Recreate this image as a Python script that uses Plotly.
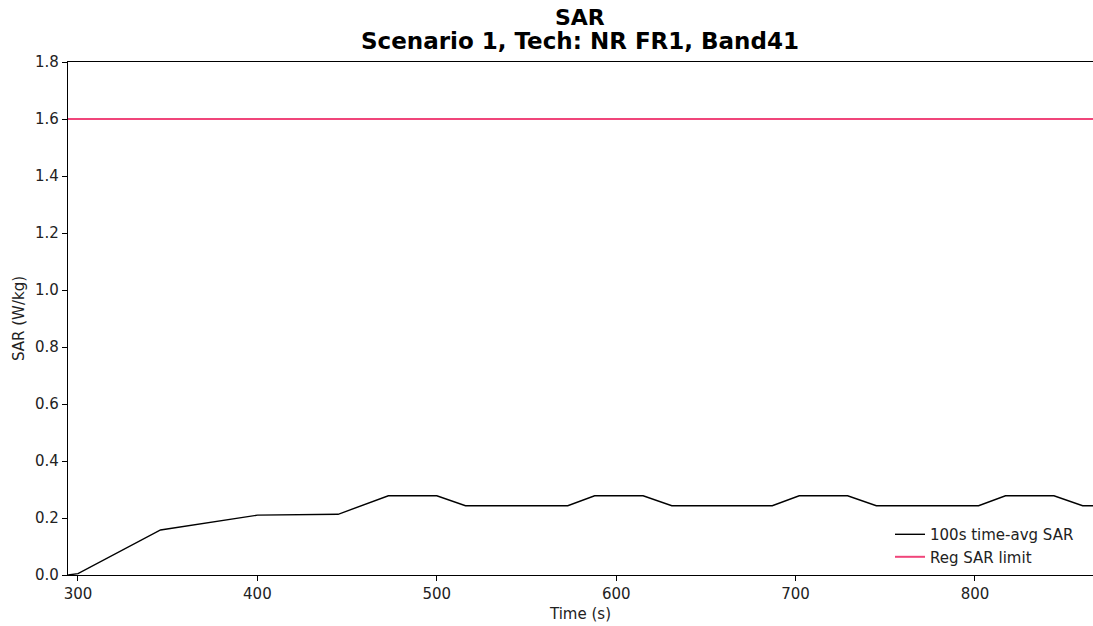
import plotly.graph_objects as go

time_s = [294.5, 300, 346, 400, 445, 473, 500, 516, 573, 588, 615, 631, 687, 702, 729, 745, 802, 817, 844, 860, 900]
sar_avg = [0.0, 0.005, 0.158, 0.21, 0.213, 0.278, 0.278, 0.243, 0.243, 0.278, 0.278, 0.243, 0.243, 0.278, 0.278, 0.243, 0.243, 0.278, 0.278, 0.243, 0.243]
limit_time = [290, 900]
limit_sar = [1.6, 1.6]
x_ticks = [300, 400, 500, 600, 700, 800]
y_ticks = [0.0, 0.2, 0.4, 0.6, 0.8, 1.0, 1.2, 1.4, 1.6, 1.8]

font = "DejaVu Sans"
W = 1093
LEFT = 68
PX_PER_UNIT = 1.794
x_min = 294.43
x_max = x_min + (W - LEFT) / PX_PER_UNIT

fig = go.Figure()
fig.add_trace(go.Scatter(x=time_s, y=sar_avg, mode="lines", name="100s time-avg SAR",
                         line=dict(color="black", width=1.4)))
fig.add_trace(go.Scatter(x=limit_time, y=limit_sar, mode="lines", name="Reg SAR limit",
                         line=dict(color="#f0457a", width=2)))

cx = (580 - LEFT) / (W - LEFT)

fig.update_layout(
    width=W, height=626,
    margin=dict(l=LEFT, r=0, t=62, b=51),
    paper_bgcolor="white", plot_bgcolor="white",
    font=dict(family=font, size=15, color="#222"),
    showlegend=True,
    legend=dict(x=(890 - LEFT) / (W - LEFT), xanchor="left", y=0.111, yanchor="top",
                bgcolor="rgba(255,255,255,0.8)", font=dict(size=15, color="#222"),
                tracegroupgap=0, itemwidth=30),
    annotations=[
        dict(text="<b>SAR</b>", x=cx, y=1.0, xref="paper", yref="paper",
             yshift=31.6, yanchor="bottom", showarrow=False, borderpad=0,
             height=24, valign="middle",
             font=dict(size=22, color="black", family=font)),
        dict(text="<b>Scenario 1, Tech: NR FR1, Band41</b>", x=cx, y=1.0, xref="paper", yref="paper",
             yshift=8, yanchor="bottom", showarrow=False, borderpad=0,
             height=24, valign="middle",
             font=dict(size=23, color="black", family=font)),
    ],
)

fig.update_xaxes(range=[x_min, x_max], tickvals=x_ticks, showgrid=False, zeroline=False,
                 showline=True, linecolor="black", linewidth=1.2, mirror=True,
                 ticks="outside", ticklen=5, tickcolor="black",
                 title=dict(text="Time (s)", font=dict(size=15, color="#222"), standoff=6))
fig.update_yaxes(range=[0, 1.8], tickvals=y_ticks, tickformat=".1f", showgrid=False, zeroline=False,
                 showline=True, linecolor="black", linewidth=1.2, mirror=False,
                 ticks="outside", ticklen=5, tickcolor="black",
                 title=dict(text="SAR (W/kg)", font=dict(size=15, color="#222"), standoff=6))

fig.write_html("out.html", config={"displayModeBar": False},
               post_script="document.body.style.margin='0';document.body.style.overflow='hidden';")
